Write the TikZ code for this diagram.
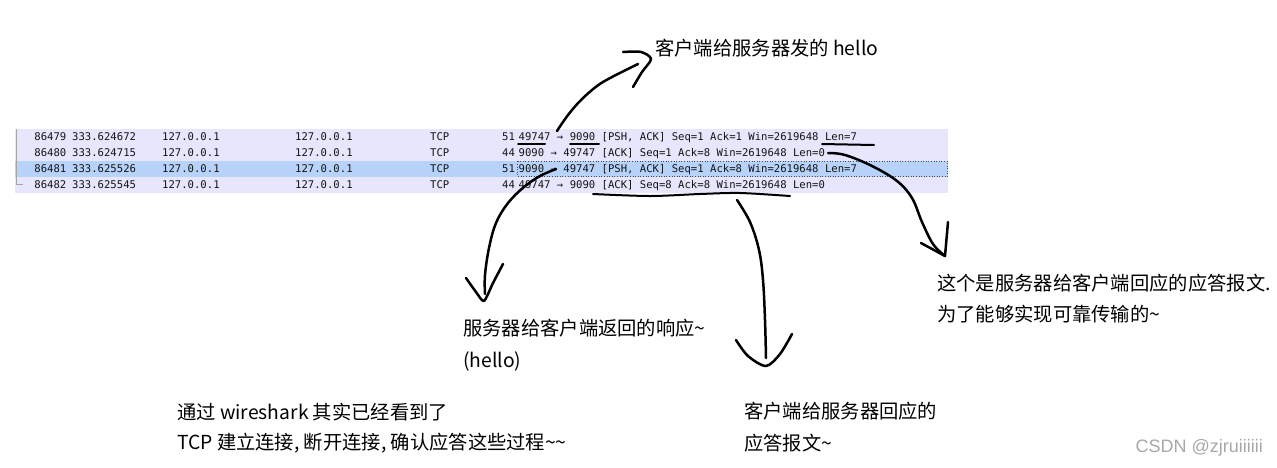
\documentclass[tikz,border=0pt]{standalone}
\usepackage{fontspec}
\newfontfamily\cjk{Noto Sans CJK SC}
\newfontfamily\monof{DejaVu Sans Mono}
\newfontfamily\wmf{Liberation Sans}
\definecolor{rowbg}{HTML}{E7E6FC}
\definecolor{selbg}{HTML}{B7D3FA}
\definecolor{rowtxt}{HTML}{141414}
\definecolor{wmark}{HTML}{A8A8A8}
\tikzset{
  cell/.style={font=\monof\fontsize{10.6}{12}\selectfont, text=rowtxt, anchor=base west, inner sep=0pt},
  rcell/.style={cell, anchor=base east},
  lab/.style={font=\cjk\fontsize{19.3}{23}\selectfont, anchor=base west, inner sep=0pt},
  hand/.style={line width=2.5pt, line cap=round, line join=round, black},
  uline/.style={line width=2pt, line cap=round, black},
}
\begin{document}
\begin{tikzpicture}[x=1pt,y=-1pt]
\useasboundingbox (0,0) rectangle (1277,467);
\fill[white] (0,0) rectangle (1277,467);
% table background
\fill[rowbg] (15,129) rectangle (948,193);
\fill[selbg] (15,161) rectangle (948,176.5);
\draw[black!70, dotted, line width=0.6pt] (517.5,161.3) rectangle (947.5,176.2);
\draw[black!35, line width=0.8pt] (16.5,129) -- (16.5,184.5) -- (22.5,184.5);
% rows
\foreach \r/\n/\t/\l/\info [count=\i] in {
  137/86479/333.624672/51/{49747 → 9090 [PSH, ACK] Seq=1 Ack=1 Win=2619648 Len=7},
  153/86480/333.624715/44/{9090 → 49747 [ACK] Seq=1 Ack=8 Win=2619648 Len=0},
  169/86481/333.625526/51/{9090 → 49747 [PSH, ACK] Seq=1 Ack=8 Win=2619648 Len=7},
  185/86482/333.625545/44/{49747 → 9090 [ACK] Seq=8 Ack=8 Win=2619648 Len=0}} {
  \node[rcell] (no\i) at (66.5,\r+3.8) {\n};
  \node[cell] (tm\i) at (72,\r+3.8) {\t};
  \node[cell] (src\i) at (162,\r+3.8) {127.0.0.1};
  \node[cell] (dst\i) at (295,\r+3.8) {127.0.0.1};
  \node[cell] (pr\i) at (430,\r+3.8) {TCP};
  \node[cell] (len\i) at (502,\r+3.8) {\l};
  \node[cell] (info\i) at (518.5,\r+3.8) {\info};
}
% labels
\node[lab] (top) at (655,55) {客户端给服务器发的 hello};
\node[lab] (resp) at (463,335) {服务器给客户端返回的响应\textasciitilde};
\node[lab] (resp2) at (463,367) {(hello)};
\node[lab] (ack1) at (937,290) {这个是服务器给客户端回应的应答报文.};
\node[lab] (ack1b) at (937,321) {为了能够实现可靠传输的\textasciitilde};
\node[lab] (ack2) at (744,418) {客户端给服务器回应的};
\node[lab] (ack2b) at (744,450) {应答报文\textasciitilde};
\node[lab] (note) at (177,419) {通过 wireshark 其实已经看到了};
\node[lab] (note2) at (177,449) {TCP 建立连接, 断开连接, 确认应答这些过程\textasciitilde\textasciitilde};
\node[font=\wmf\fontsize{18}{20}\selectfont, text=wmark, anchor=base east, inner sep=0pt] (wm) at (1263,452) {CSDN @zjruiiiiii};
% underlines row 1
\draw[uline] (518,144) -- (545,144);
\draw[uline] (570,144) -- (599,144);
\draw[uline] (822,144) -- (874,145);
% arrow 1: to top label
\coordinate (s1) at (557,131);
\coordinate (e1) at (638,64);
\draw[hand] plot[smooth, tension=0.6] coordinates {(s1) (568,115) (581,100) (597,86) (612,77) (e1)};
\draw[hand] plot[smooth, tension=0.5] coordinates {(623,52) (641,52) (651,59) (642,72) (633,87)};
% arrow 2: Len=0 -> right label
\coordinate (s2) at (828,153);
\coordinate (t2) at (945,256);
\draw[hand] plot[smooth, tension=0.6] coordinates {(s2) (845,155) (872,166) (897,181) (912,198) (922,222) (933,244) (t2)};
\draw[hand] (921,243) -- (t2) -- (948,222);
% arrow 3: row 3 -> response label
\coordinate (s3) at (556,169);
\coordinate (t3) at (484,301);
\draw[hand] plot[smooth, tension=0.6] coordinates {(s3) (540,176) (524,187) (508,203) (496,223) (489,248) (485,275) (485,294)};
\draw[hand] plot[smooth, tension=0.4] coordinates {(466,278) (476,292) (t3) (493,283) (503,264)};
% row 4 underline and arrow
\draw[hand, line width=2pt] plot[smooth, tension=0.5] coordinates {(593,194) (650,196) (700,194) (740,193) (790,196)};
\coordinate (s4) at (737,200);
\coordinate (t4) at (766,366);
\draw[hand] plot[smooth, tension=0.6] coordinates {(s4) (750,222) (759,250) (763,280) (765,320) (766,358)};
\draw[hand] plot[smooth, tension=0.5] coordinates {(736,340) (748,356) (t4) (780,354) (792,334)};
\end{tikzpicture}
\end{document}
